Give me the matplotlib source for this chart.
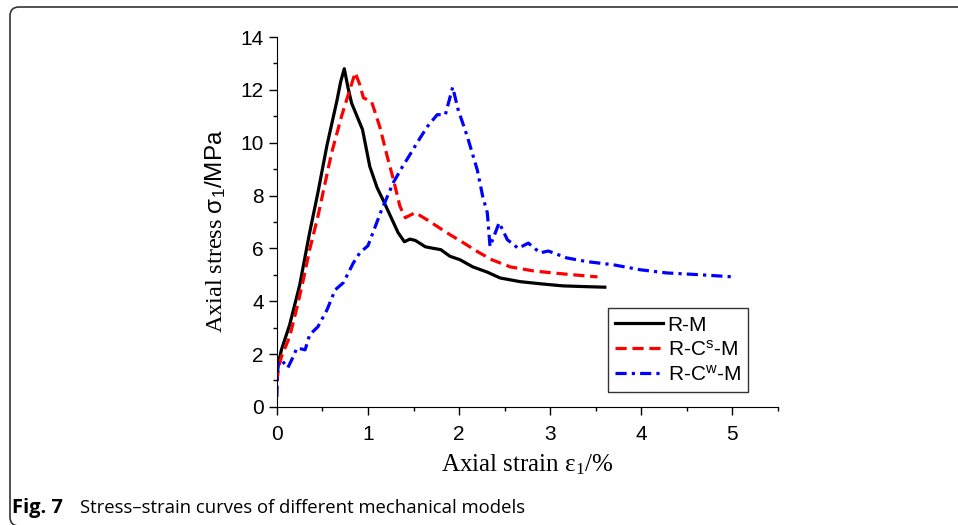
import matplotlib
matplotlib.use("Agg")
from matplotlib import pyplot as plt
from matplotlib.patches import FancyBboxPatch
from matplotlib.transforms import IdentityTransform
from matplotlib.ticker import MultipleLocator

plt.rcParams["font.family"] = ["Liberation Sans", "DejaVu Sans"]
plt.rcParams["mathtext.fontset"] = "custom"
plt.rcParams["mathtext.rm"] = "Liberation Serif"
plt.rcParams["mathtext.it"] = "Liberation Serif:italic"
plt.rcParams["mathtext.sf"] = "Liberation Sans"

# R-M
x_rm = [0, 0.02, 0.05, 0.14, 0.25, 0.36, 0.45, 0.55, 0.66, 0.70, 0.74, 0.78, 0.82, 0.88,
        0.94, 1.02, 1.10, 1.17, 1.25, 1.33, 1.40, 1.46, 1.52, 1.63, 1.72, 1.80, 1.90, 2.01,
        2.15, 2.31, 2.45, 2.67, 2.89, 3.14, 3.40, 3.60]
y_rm = [1.2, 1.7, 2.16, 3.1, 4.6, 6.6, 8.1, 9.9, 11.6, 12.3, 12.8, 12.1, 11.5, 11.0,
        10.5, 9.1, 8.3, 7.8, 7.2, 6.6, 6.25, 6.35, 6.3, 6.06, 6.0, 5.95, 5.7, 5.57,
        5.3, 5.1, 4.88, 4.74, 4.66, 4.58, 4.55, 4.53]

# R-Cs-M
x_rcs = [0, 0.02, 0.05, 0.14, 0.22, 0.29, 0.36, 0.45, 0.60, 0.71, 0.80, 0.86, 0.91, 0.95,
         1.04, 1.13, 1.21, 1.28, 1.35, 1.41, 1.46, 1.52, 1.65, 1.76, 1.90, 2.03, 2.20, 2.36,
         2.56, 2.81, 3.03, 3.25, 3.52]
y_rcs = [0.95, 1.5, 1.9, 2.65, 3.75, 4.8, 5.95, 7.2, 9.6, 11.0, 12.0, 12.65, 12.2, 11.7,
         11.55, 10.6, 9.5, 8.6, 7.6, 7.16, 7.25, 7.35, 7.08, 6.83, 6.52, 6.25, 5.88, 5.57,
         5.3, 5.15, 5.07, 5.0, 4.92]

# R-Cw-M
x_rcw = [0, 0.01, 0.05, 0.12, 0.18, 0.22, 0.31, 0.36, 0.45, 0.55, 0.64, 0.73, 0.84, 0.91,
         1.0, 1.15, 1.28, 1.38, 1.44, 1.54, 1.65, 1.76, 1.85, 1.93, 1.99, 2.09, 2.20, 2.26,
         2.31, 2.34, 2.44, 2.53, 2.65, 2.76, 2.89, 2.98, 3.18, 3.40, 3.69, 3.99, 4.28, 4.65, 5.01]
y_rcw = [0.38, 1.67, 1.78, 1.48, 1.9, 2.23, 2.16, 2.73, 3.03, 3.67, 4.43, 4.7, 5.45, 5.83,
         6.1, 7.46, 8.5, 9.1, 9.43, 10.0, 10.6, 11.06, 11.06, 12.1, 11.25, 10.24, 8.97, 7.96,
         7.35, 6.07, 6.97, 6.33, 6.0, 6.2, 5.83, 5.9, 5.64, 5.5, 5.38, 5.19, 5.07, 5.0, 4.92]

fig = plt.figure(figsize=(9.58, 5.25), dpi=100)
ax = fig.add_axes([0.289, 0.225, 0.523, 0.7045])

ax.plot(x_rm, y_rm, color="black", lw=2.3, label="R-M")
ax.plot(x_rcs, y_rcs, color="red", lw=2.3, ls=(0, (3.5, 1.8)), label="R-C$^\\mathsf{s}$-M")
ax.plot(x_rcw, y_rcw, color="blue", lw=2.3, ls=(0, (3.5, 1.6, 1.0, 1.6)), label="R-C$^\\mathsf{w}$-M")

ax.set_xlim(0, 5.5)
ax.set_ylim(0, 14)
ax.xaxis.set_major_locator(MultipleLocator(1))
ax.xaxis.set_minor_locator(MultipleLocator(0.5))
ax.yaxis.set_major_locator(MultipleLocator(2))
ax.yaxis.set_minor_locator(MultipleLocator(1))
ax.spines["top"].set_visible(False)
ax.spines["right"].set_visible(False)
ax.tick_params(which="major", direction="out", length=6, width=1, labelsize=15)
ax.tick_params(which="minor", direction="out", length=3, width=1)
ax.tick_params(axis="x", labelsize=15, pad=7)

ax.set_xlabel("Axial strain ε$_1$/%", family="Liberation Serif", fontsize=18, labelpad=6)
ax.set_ylabel("Axial stress $\\mathsf{\\sigma_1/MPa}$", family="Liberation Serif", fontsize=17.5, labelpad=6)
ax.yaxis.set_label_coords(-0.097, 0.475)

leg = ax.legend(loc="lower right", bbox_to_anchor=(0.94, 0.04), fontsize=15, frameon=True,
                fancybox=False, edgecolor="black", handlelength=2.3, handletextpad=0.2,
                borderpad=0.35, labelspacing=0.28, borderaxespad=0)
leg.get_frame().set_linewidth(1)

# caption and frame
fig.text(0.013, 0.022, "Fig. 7", family="Open Sans", weight="bold", fontsize=14.5)
fig.text(0.083, 0.022, "Stress–strain curves of different mechanical models", family="Open Sans",
         fontsize=13.3)
frame = FancyBboxPatch((10, -1), 1000, 519, boxstyle="round,pad=0,rounding_size=9",
                       transform=IdentityTransform(), fill=False, edgecolor="#333333", lw=1.2)
fig.patches.append(frame)

fig.savefig("out.png", dpi=100)
